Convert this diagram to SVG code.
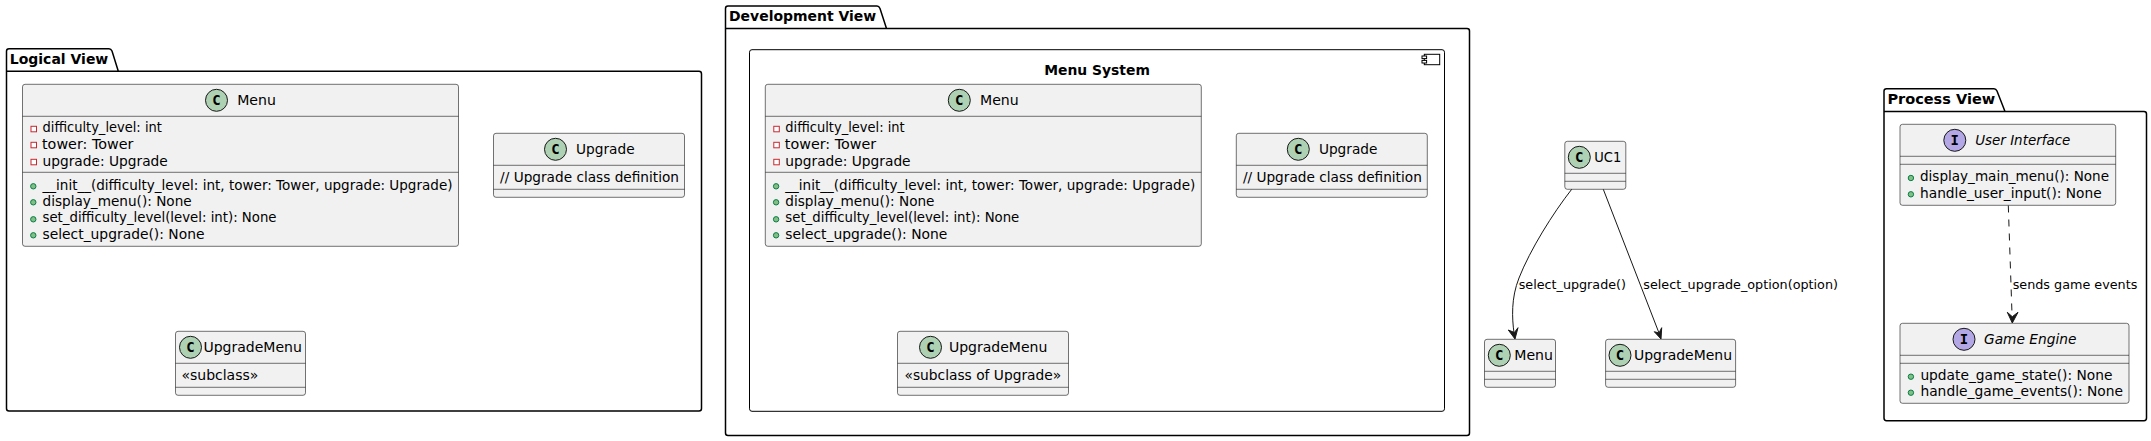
<svg xmlns="http://www.w3.org/2000/svg" width="2151" height="441" viewBox="0 0 2151 441">
<style>
text{font-family:"DejaVu Sans",sans-serif;font-size:14px;fill:#000}
.pk{fill:none;stroke:#000;stroke-width:1.5}
.pt{font-weight:bold}
.box{fill:#F1F1F1;stroke:#181818;stroke-opacity:.6;stroke-width:1}
.div{stroke:#181818;stroke-opacity:.6;stroke-width:1;fill:none}
.c{fill:#ADD1B2;stroke:#181818;stroke-width:1}
.i{fill:#B4A7E5;stroke:#181818;stroke-width:1}
.g{font-weight:bold;font-size:14px;font-family:"DejaVu Sans Mono",monospace;text-anchor:middle}
.lab{font-size:13px}
.pv{fill:#84BE84;stroke:#038048;stroke-width:1}
.pr{fill:#FFFFFF;stroke:#C82930;stroke-width:1}
.ln{fill:none;stroke:#181818;stroke-width:1}
.ah{fill:#181818;stroke:#181818;stroke-width:1}
</style>
<defs>
<g id="menu">
<rect class="box" x="0" y="0" width="436" height="162" rx="2.5"/>
<path class="div" d="M0 32H436M0 88H436"/>
<circle class="c" cx="194" cy="16" r="11"/><text class="g" x="194" y="21">C</text>
<text x="214.7" y="21" textLength="38.7" lengthAdjust="spacingAndGlyphs">Menu</text>
<rect class="pr" x="8.5" y="42" width="5.5" height="5.5"/><text x="20" y="48" textLength="119.4" lengthAdjust="spacingAndGlyphs">difficulty_level: int</text>
<rect class="pr" x="8.5" y="58" width="5.5" height="5.5"/><text x="19.5" y="64.7" textLength="91.4" lengthAdjust="spacingAndGlyphs">tower: Tower</text>
<rect class="pr" x="8.5" y="75" width="5.5" height="5.5"/><text x="20" y="81.4" textLength="125.3" lengthAdjust="spacingAndGlyphs">upgrade: Upgrade</text>
<circle class="pv" cx="10.8" cy="102" r="2.7"/><text x="20" y="105.7" textLength="410" lengthAdjust="spacingAndGlyphs">__init__(difficulty_level: int, tower: Tower, upgrade: Upgrade)</text>
<circle class="pv" cx="10.8" cy="118" r="2.7"/><text x="20" y="121.7" textLength="149.2" lengthAdjust="spacingAndGlyphs">display_menu(): None</text>
<circle class="pv" cx="10.8" cy="135" r="2.7"/><text x="20" y="137.7" textLength="234" lengthAdjust="spacingAndGlyphs">set_difficulty_level(level: int): None</text>
<circle class="pv" cx="10.8" cy="151" r="2.7"/><text x="20" y="154.7" textLength="162" lengthAdjust="spacingAndGlyphs">select_upgrade(): None</text>
</g>
<g id="upgrade">
<rect class="box" x="0" y="0" width="191" height="64" rx="2.5"/>
<path class="div" d="M0 32H191M0 56H191"/>
<circle class="c" cx="62" cy="16" r="11"/><text class="g" x="62" y="21">C</text>
<text x="82.6" y="21" textLength="58.5" lengthAdjust="spacingAndGlyphs">Upgrade</text>
<text x="6.6" y="49" textLength="178.9" lengthAdjust="spacingAndGlyphs">// Upgrade class definition</text>
</g>
</defs>
<g id="logical-view">
<path class="pk" d="M6.5 71.3V51.2Q6.5 48.7 9 48.7H109Q111 48.7 112 51L118.3 71.3M6.5 71.3H699Q701.5 71.3 701.5 74V408.5Q701.5 411 699 411H9Q6.5 411 6.5 408.5V71.3"/>
<text class="pt" x="9.8" y="64" textLength="98.5" lengthAdjust="spacingAndGlyphs">Logical View</text>
</g>
<g id="logical-menu"><use href="#menu" x="22.5" y="84.3"/></g>
<g id="logical-upgrade"><use href="#upgrade" x="493.5" y="133.3"/></g>
<g id="logical-upgrademenu">
<rect class="box" x="175.5" y="331.3" width="130" height="64" rx="2.5"/>
<path class="div" d="M175.5 363.3H305.5M175.5 387.3H305.5"/>
<circle class="c" cx="190.5" cy="347.3" r="11"/><text class="g" x="190.5" y="352.3">C</text>
<text x="203.4" y="352.3" textLength="98.5" lengthAdjust="spacingAndGlyphs">UpgradeMenu</text>
<text x="181.4" y="380.3" textLength="77" lengthAdjust="spacingAndGlyphs">«subclass»</text>
</g>
<g id="development-view">
<path class="pk" d="M725.5 28.5V8.5Q725.5 6 728 6H877Q879 6 880 8.5L886.5 28.5M725.5 28.5H1467Q1469.5 28.5 1469.5 31V433Q1469.5 435.5 1467 435.5H728Q725.5 435.5 725.5 433V28.5"/>
<text class="pt" x="729" y="21" textLength="147.2" lengthAdjust="spacingAndGlyphs">Development View</text>
</g>
<g id="menu-system">
<rect x="749.5" y="49.7" width="695" height="361.6" rx="2.5" fill="none" stroke="#000" stroke-width="1"/>
<rect x="1424.3" y="54.3" width="15.4" height="10.4" fill="none" stroke="#000" stroke-width="1"/>
<rect x="1422" y="56" width="4.6" height="2.6" fill="#fff" stroke="#000" stroke-width="1"/>
<rect x="1422" y="60.4" width="4.6" height="2.6" fill="#fff" stroke="#000" stroke-width="1"/>
<text class="pt" x="1044.2" y="75" textLength="105.7" lengthAdjust="spacingAndGlyphs">Menu System</text>
</g>
<g id="dev-menu"><use href="#menu" x="765.3" y="84.3"/></g>
<g id="dev-upgrade"><use href="#upgrade" x="1236.3" y="133.3"/></g>
<g id="dev-upgrademenu">
<rect class="box" x="897.5" y="331.3" width="171" height="64" rx="2.5"/>
<path class="div" d="M897.5 363.3H1068.5M897.5 387.3H1068.5"/>
<circle class="c" cx="930.5" cy="347.3" r="11"/><text class="g" x="930.5" y="352.3">C</text>
<text x="948.9" y="352.3" textLength="98.5" lengthAdjust="spacingAndGlyphs">UpgradeMenu</text>
<text x="904.5" y="380.3" textLength="156.7" lengthAdjust="spacingAndGlyphs">«subclass of Upgrade»</text>
</g>
<g id="uc1">
<rect class="box" x="1564.8" y="141.3" width="61" height="48" rx="2.5"/>
<path class="div" d="M1564.8 173.3H1625.8M1564.8 181.3H1625.8"/>
<circle class="c" cx="1579.3" cy="157.3" r="11"/><text class="g" x="1579.3" y="162.3">C</text>
<text x="1594.3" y="162.3" textLength="27" lengthAdjust="spacingAndGlyphs">UC1</text>
</g>
<g id="menu-node">
<rect class="box" x="1484.5" y="339.3" width="71" height="48" rx="2.5"/>
<path class="div" d="M1484.5 371.3H1555.5M1484.5 379.3H1555.5"/>
<circle class="c" cx="1499.3" cy="355.3" r="11"/><text class="g" x="1499.3" y="360.3">C</text>
<text x="1514.3" y="360.3" textLength="38.7" lengthAdjust="spacingAndGlyphs">Menu</text>
</g>
<g id="upgrademenu-node">
<rect class="box" x="1605.6" y="339.3" width="130" height="48" rx="2.5"/>
<path class="div" d="M1605.6 371.3H1735.6M1605.6 379.3H1735.6"/>
<circle class="c" cx="1620" cy="355.3" r="11"/><text class="g" x="1620" y="360.3">C</text>
<text x="1634" y="360.3" textLength="98" lengthAdjust="spacingAndGlyphs">UpgradeMenu</text>
</g>
<g id="process-view">
<path class="pk" d="M1884 111.5V91Q1884 88.7 1886.5 88.7H1994Q1996 88.7 1997 91L2005 111.5M1884 111.5H2144Q2146.5 111.5 2146.5 114V418Q2146.5 420.7 2144 420.7H1886.5Q1884 420.7 1884 418V111.5"/>
<text class="pt" x="1887.4" y="104.3" textLength="107.8" lengthAdjust="spacingAndGlyphs">Process View</text>
</g>
<g id="user-interface">
<rect class="box" x="1900" y="124.3" width="215.7" height="81" rx="2.5"/>
<path class="div" d="M1900 156.3H2115.7M1900 164.3H2115.7"/>
<circle class="i" cx="1954.8" cy="140.3" r="11"/><text class="g" x="1954.8" y="145.3">I</text>
<text x="1975.2" y="145.3" font-style="italic" textLength="95.2" lengthAdjust="spacingAndGlyphs">User Interface</text>
<circle class="pv" cx="1910.9" cy="178" r="2.7"/><text x="1920" y="181.3" textLength="189" lengthAdjust="spacingAndGlyphs">display_main_menu(): None</text>
<circle class="pv" cx="1910.9" cy="194.3" r="2.7"/><text x="1920" y="198" textLength="181.7" lengthAdjust="spacingAndGlyphs">handle_user_input(): None</text>
</g>
<g id="game-engine">
<rect class="box" x="1900" y="323.3" width="229" height="80" rx="2.5"/>
<path class="div" d="M1900 355.3H2129M1900 363.3H2129"/>
<circle class="i" cx="1964" cy="339.3" r="11"/><text class="g" x="1964" y="344.3">I</text>
<text x="1984" y="344.3" font-style="italic" textLength="92.5" lengthAdjust="spacingAndGlyphs">Game Engine</text>
<circle class="pv" cx="1910.9" cy="376.7" r="2.7"/><text x="1920.4" y="380" textLength="192" lengthAdjust="spacingAndGlyphs">update_game_state(): None</text>
<circle class="pv" cx="1910.9" cy="392.7" r="2.7"/><text x="1920.4" y="396.3" textLength="202.6" lengthAdjust="spacingAndGlyphs">handle_game_events(): None</text>
</g>
<g id="connectors">
<path class="ln" d="M1571.7 189.3C1553 213 1530 250 1519 278C1511 298 1512 318 1514 333"/>
<path class="ah" d="M1515 339L1518 327.7L1514.4 332.5L1508.3 330Z"/>
<path class="ln" d="M1603.3 189.3L1659 333"/>
<path class="ah" d="M1661 339L1661.7 327.7L1659 333L1654.3 331.7Z"/>
<path class="ln" d="M2008.3 205.5L2012.1 317" stroke-dasharray="7,7"/>
<path class="ah" d="M2012.3 323L2018 312.3L2012.3 316.7L2007.3 312.3Z"/>
<text class="lab" x="1518.7" y="289.3" textLength="107.3" lengthAdjust="spacingAndGlyphs">select_upgrade()</text>
<text class="lab" x="1643.3" y="289.3" textLength="194.7" lengthAdjust="spacingAndGlyphs">select_upgrade_option(option)</text>
<text class="lab" x="2012.7" y="289.3" textLength="124.6" lengthAdjust="spacingAndGlyphs">sends game events</text>
</g>
</svg>
